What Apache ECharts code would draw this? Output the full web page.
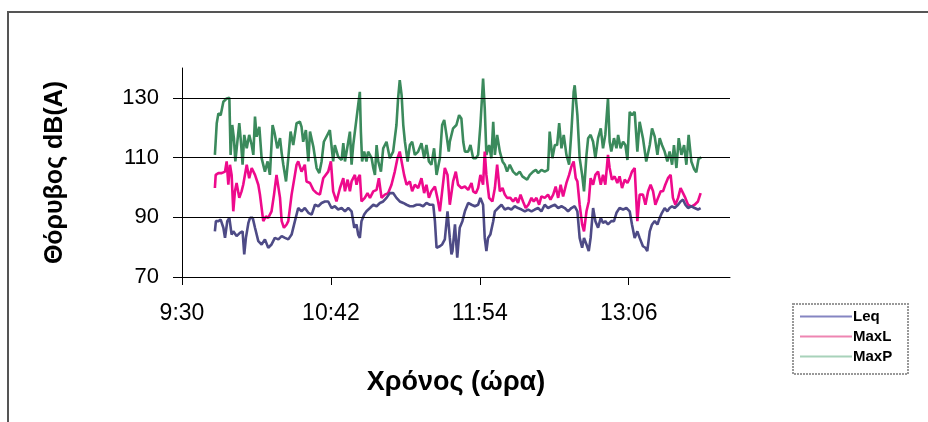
<!DOCTYPE html>
<html>
<head>
<meta charset="utf-8">
<script src="https://cdn.jsdelivr.net/npm/echarts@6/dist/echarts.min.js"></script>
<style>
  html, body { margin: 0; padding: 0; background: #fff; }
  #chart { width: 928px; height: 422px; }
</style>
</head>
<body>
<div id="chart"></div>
<script>
  // times in minutes since midnight, levels in dB(A)
  const timeTicks = [570, 642, 714, 786]
  const dbTicks = [70, 90, 110, 130]
  const gridDb = [90, 110, 130]

  const leqTime = [585.9, 586.4, 587.6, 588.7, 590.0, 590.8, 591.9, 592.9, 594.0, 594.8, 596.4, 598.0, 599.3, 600.1, 600.9, 602.1, 602.9, 604.2, 605.3, 606.9, 608.5, 610.1, 611.7, 613.3, 614.9, 616.6, 618.2, 619.8, 621.4, 623.0, 624.6, 626.2, 627.8, 629.4, 631.1, 632.7, 634.3, 635.9, 637.5, 639.1,
    640.7, 642.3, 643.9, 645.5, 647.2, 648.8, 650.4, 652.0, 653.3, 654.4, 655.2, 656.0, 656.8, 658.1, 659.2, 660.9, 662.5, 664.1, 665.7, 667.3, 668.9, 670.5, 672.1, 673.7, 675.3, 677.0, 678.6, 680.2, 681.8, 683.4, 685.0, 686.6, 688.2, 689.8, 691.5, 692.3, 693.1, 694.7, 695.8, 697.1, 698.4, 699.5, 700.3,
    700.8, 702.0, 703.1, 704.3, 705.6, 706.8, 708.4, 710.0, 711.6, 713.2, 714.3, 715.6, 716.4, 717.2, 718.0, 719.1, 720.5, 721.3, 722.9, 724.5, 726.1, 727.7, 729.3, 730.9, 732.5, 734.2, 735.8, 737.4, 739.0, 740.6, 742.2, 743.8, 745.4, 747.0, 748.6, 750.3, 751.9, 753.5, 755.1, 756.7, 758.3, 759.9,
    761.2, 762.3, 763.5, 764.4, 765.6, 766.7, 767.6, 768.8, 769.9, 771.2, 772.5, 773.6, 774.7, 776.0, 777.6, 778.9, 780.1, 781.6, 783.3, 784.9, 786.5, 787.6, 788.9, 790.2, 791.3, 792.9, 794.1, 795.0, 796.2, 797.3, 798.6, 799.9, 801.0, 802.1, 803.4, 804.7, 805.8, 807.0, 808.2, 809.9, 811.1, 812.3, 813.4, 814.7, 816.3, 817.9, 819.5, 820.8]
  const leqDb = [85.3, 88.7, 88.7, 89.2, 86.5, 83.1, 88.7, 89.8, 84.2, 85.3, 83.7, 84.8, 85.3, 77.6, 83.1, 88.1, 89.8, 89.8, 86.5, 82.0, 80.9, 82.6, 79.8, 80.9, 83.1, 82.6, 83.7, 83.1, 82.6, 84.2, 88.7, 93.1, 92.0, 93.1, 91.5, 90.9, 94.2, 93.7, 94.8, 95.3,
    95.3, 93.1, 93.7, 92.6, 93.1, 92.0, 93.1, 92.0, 86.5, 87.6, 84.2, 83.1, 88.7, 90.9, 92.0, 93.1, 94.2, 93.7, 94.8, 95.3, 96.5, 98.1, 98.1, 96.5, 95.3, 94.8, 94.2, 93.7, 93.7, 94.2, 94.2, 93.7, 94.8, 94.2, 94.2, 88.7, 79.8, 80.3, 80.9, 82.6, 92.0, 83.1, 77.6,
    78.7, 87.6, 76.5, 86.5, 88.7, 92.0, 94.8, 94.2, 93.7, 94.2, 96.5, 94.2, 83.1, 78.7, 83.1, 84.2, 88.7, 92.0, 93.1, 94.2, 92.6, 93.1, 92.6, 93.7, 93.1, 92.6, 92.0, 92.6, 92.0, 92.6, 93.1, 92.0, 94.2, 93.1, 93.7, 94.2, 93.1, 93.7, 93.1, 92.0, 93.1, 93.7,
    92.0, 83.1, 79.8, 83.1, 80.9, 78.7, 83.1, 93.1, 88.7, 86.5, 89.8, 88.1, 88.7, 87.6, 88.7, 88.7, 91.5, 93.1, 92.6, 93.1, 92.0, 87.6, 83.1, 85.3, 83.1, 80.3, 79.8, 78.7, 85.3, 87.6, 88.7, 87.6, 89.8, 91.5, 93.1, 92.0, 93.1, 93.7, 93.1, 94.2, 95.3, 95.9, 94.2, 93.1, 93.7, 93.1, 92.6, 93.1]

  const maxLTime = [585.9, 586.3, 587.6, 589.2, 590.8, 591.6, 592.4, 593.2, 594.0, 594.8, 595.6, 596.4, 597.7, 598.8, 599.6, 601.3, 602.5, 603.7, 604.5, 605.3, 606.9, 607.7, 608.5, 609.3, 610.6, 611.7, 613.3, 614.5, 615.7, 617.4, 618.2, 619.3, 620.6, 621.4, 623.0, 624.6, 625.4, 626.2, 627.8, 629.4, 630.2, 631.9, 633.5, 635.1, 636.7, 638.3,
    640.7, 642.0, 643.1, 644.7, 646.4, 648.0, 648.8, 650.1, 651.2, 652.0, 653.6, 654.4, 655.2, 656.0, 656.8, 658.4, 659.7, 660.9, 662.5, 664.1, 665.2, 666.5, 668.1, 669.7, 671.3, 672.9, 674.2, 675.3, 676.2, 677.4, 678.6, 680.2, 681.3, 682.6, 684.2, 685.8, 687.1, 688.2, 689.4, 690.6, 692.3, 693.5, 694.7, 695.8, 697.1, 698.4, 699.5,
    701.1, 702.4, 703.5, 705.1, 706.8, 708.4, 710.0, 710.8, 712.1, 713.2, 714.3, 715.6, 716.4, 717.2, 718.5, 720.1, 721.3, 722.4, 723.7, 725.0, 726.1, 727.2, 728.8, 730.1, 731.4, 732.5, 733.7, 734.9, 736.2, 737.5, 739.0, 740.1, 741.4, 742.7, 743.8, 745.4, 747.0, 748.2, 749.5, 750.7, 751.9, 753.1, 754.3, 755.9, 757.2, 758.3, 759.4, 760.4,
    761.2, 762.3, 763.5, 764.4, 765.6, 766.7, 767.6, 768.8, 769.9, 771.2, 772.5, 773.6, 774.7, 776.0, 776.8, 777.9, 779.2, 780.5, 781.6, 782.8, 784.1, 785.4, 786.5, 787.6, 788.9, 790.2, 791.3, 792.9, 794.1, 795.4, 796.6, 797.8, 798.9, 800.2, 801.5, 802.6, 803.7, 805.0, 806.3, 807.4, 808.6, 809.9, 811.1, 812.3, 813.4, 814.7, 816.3, 817.9, 819.5, 820.8]
  const maxLDb = [99.8, 104.2, 104.8, 104.8, 105.3, 108.7, 100.9, 107.6, 104.2, 92.0, 98.7, 101.5, 96.5, 98.7, 100.9, 107.6, 103.1, 106.5, 107.0, 104.2, 100.9, 97.6, 98.1, 88.7, 90.3, 89.8, 92.0, 97.6, 104.2, 96.5, 88.7, 86.5, 87.6, 88.7, 97.6, 104.2, 107.6, 108.7, 105.3, 107.6, 102.0, 101.5, 99.2, 98.1, 97.6, 103.1,
    105.3, 108.7, 98.7, 95.3, 99.8, 103.1, 98.7, 102.6, 98.7, 102.0, 104.2, 100.9, 103.1, 104.2, 95.3, 96.5, 98.1, 96.5, 98.7, 99.2, 103.1, 96.5, 97.6, 98.1, 100.9, 105.3, 109.8, 112.0, 108.7, 104.2, 100.9, 102.0, 98.7, 100.9, 99.8, 103.1, 98.1, 100.9, 96.5, 98.7, 100.3, 96.5, 92.0, 98.7, 106.5, 104.2, 94.2,
    102.0, 105.3, 100.9, 99.8, 100.3, 99.2, 101.5, 98.7, 98.1, 99.8, 104.2, 100.9, 112.0, 104.2, 96.5, 95.3, 99.8, 107.6, 98.7, 99.8, 97.6, 96.5, 96.5, 95.3, 96.5, 94.8, 97.6, 95.3, 93.1, 94.2, 96.5, 95.3, 96.5, 94.2, 97.0, 96.5, 97.6, 95.9, 97.6, 100.3, 96.5, 100.9, 97.0, 101.5, 104.2, 107.0, 108.7, 103.1,
    102.0, 94.2, 87.6, 85.3, 92.0, 95.3, 103.1, 100.9, 104.2, 105.3, 100.9, 104.2, 100.9, 110.9, 106.5, 102.6, 103.7, 101.5, 103.7, 99.8, 102.6, 101.5, 103.1, 105.3, 106.5, 88.7, 97.6, 97.6, 94.2, 98.7, 100.9, 98.7, 94.2, 96.5, 98.7, 98.7, 100.9, 103.1, 104.2, 96.5, 94.2, 96.5, 99.8, 98.1, 96.5, 94.2, 93.6, 94.2, 95.3, 98.1]

  const maxPTime = [585.9, 586.8, 587.6, 588.7, 590.0, 591.6, 592.9, 593.5, 594.3, 595.1, 595.8, 596.6, 597.7, 598.5, 599.3, 600.1, 601.3, 602.5, 603.7, 604.5, 605.3, 606.1, 607.4, 608.5, 610.1, 611.4, 612.5, 613.8, 614.8, 616.1, 617.4, 618.2, 619.0, 620.3, 621.4, 622.5, 623.8, 625.4, 627.0, 627.8, 628.6, 629.9, 631.1, 631.9, 633.5, 635.1, 636.4, 637.5, 638.6,
    641.5, 643.1, 643.9, 645.5, 647.2, 648.0, 648.8, 650.4, 651.2, 652.0, 652.8, 654.4, 655.2, 656.0, 656.5, 657.1, 658.1, 659.2, 660.0, 661.7, 662.5, 663.3, 664.1, 664.9, 666.2, 667.3, 668.9, 670.5, 672.1, 673.7, 674.5, 675.3, 676.2, 677.0, 677.8, 679.1, 680.2, 681.3, 682.6, 684.2, 685.8, 687.1, 688.2, 689.4, 690.6, 691.9, 693.1, 694.7, 695.8, 696.8, 697.9, 699.0,
    699.5, 701.1, 702.7, 704.0, 705.1, 706.0, 706.8, 708.4, 709.5, 710.8, 712.1, 713.2, 714.3, 715.6, 716.4, 717.2, 718.5, 719.6, 720.5, 721.3, 722.4, 723.7, 725.0, 726.1, 727.2, 728.5, 730.1, 731.7, 733.3, 734.6, 735.8, 736.9, 738.2, 739.8, 741.1, 742.2, 743.8, 745.4, 747.0, 747.8, 749.1, 750.3, 751.4, 752.4, 753.5, 754.6, 755.9, 757.2, 758.3, 759.4,
    759.9, 761.2, 762.3, 763.5, 764.4, 765.6, 766.4, 767.6, 768.8, 769.9, 771.2, 772.5, 773.6, 774.7, 776.0, 776.8, 777.6, 778.9, 780.1, 780.9, 782.1, 783.3, 784.4, 785.4, 786.5, 787.6, 788.9, 790.2, 791.3, 792.9, 794.5, 796.2, 797.3, 798.6, 799.9, 801.0, 802.1, 803.4, 804.7, 805.8, 807.0, 807.9, 809.1, 810.2, 811.5, 812.8, 813.9, 815.0, 816.3, 817.6, 818.7, 819.8, 821.1]
  const maxPDb = [110.9, 121.5, 124.8, 124.2, 128.7, 129.8, 130.0, 110.9, 120.9, 116.5, 108.7, 114.2, 121.5, 115.3, 107.6, 117.6, 113.1, 117.6, 114.2, 110.9, 123.7, 117.0, 120.3, 109.8, 105.3, 108.7, 104.2, 120.9, 118.1, 113.1, 116.5, 111.5, 107.6, 102.0, 109.8, 118.7, 114.2, 121.5, 122.0, 120.3, 115.3, 119.2, 108.7, 118.7, 113.7, 106.5, 104.8, 108.7, 115.3,
    119.2, 108.7, 114.2, 110.3, 109.2, 114.8, 108.7, 115.3, 118.7, 107.6, 114.2, 123.1, 127.6, 132.0, 118.7, 108.7, 112.0, 108.7, 112.0, 109.8, 106.5, 104.2, 114.2, 108.7, 105.3, 113.1, 115.3, 109.8, 112.0, 120.9, 129.8, 135.9, 130.9, 120.9, 115.3, 108.7, 114.2, 115.3, 110.9, 112.0, 114.8, 109.8, 114.2, 108.7, 107.6, 113.1, 104.2, 109.8, 120.9, 122.6, 117.6, 112.0,
    115.3, 119.8, 120.9, 124.2, 123.1, 115.3, 112.0, 112.0, 114.2, 109.8, 109.8, 110.9, 120.9, 136.5, 126.5, 110.9, 114.2, 109.8, 122.0, 110.9, 117.6, 112.0, 108.7, 107.6, 105.3, 107.6, 105.3, 104.2, 105.3, 103.7, 103.1, 102.6, 104.2, 105.3, 105.9, 104.8, 105.9, 105.3, 105.9, 118.7, 109.8, 114.2, 114.2, 121.5, 113.1, 117.6, 110.9, 107.6, 118.7, 132.0,
    134.2, 124.2, 109.8, 104.2, 98.7, 110.9, 116.5, 117.6, 115.3, 109.8, 116.5, 119.8, 113.1, 117.6, 129.8, 115.3, 112.0, 116.5, 113.1, 117.6, 113.1, 115.3, 114.2, 109.2, 125.3, 124.2, 125.3, 112.0, 122.0, 116.5, 108.7, 114.2, 119.8, 117.0, 110.9, 116.5, 114.2, 112.0, 108.7, 112.0, 107.6, 114.2, 106.5, 116.5, 110.9, 114.2, 107.6, 117.6, 108.7, 106.2, 105.1, 109.6, 110.1]

  const font = "'Liberation Sans', Arial, sans-serif"
  const pair = (xs, ys) => xs.map((t, i) => [t, ys[i]])
  const hhmm = v => Math.floor(v / 60) + ':' + String(Math.round(v % 60)).padStart(2, '0')

  const chart = echarts.init(document.getElementById('chart'), null, { renderer: 'canvas' })

  function lineSeries (name, color, data) {
    return {
      name,
      type: 'line',
      data,
      symbol: 'none',
      lineStyle: { color, width: 2.6 },
      itemStyle: { color }
    }
  }

  chart.setOption({
    backgroundColor: '#fff',
    animation: false,
    textStyle: { fontFamily: font },
    graphic: [
      {
        type: 'rect',
        shape: { x: 8, y: 12, width: 1000, height: 600 },
        style: { fill: 'none', stroke: '#555', lineWidth: 2 }
      },
      {
        type: 'rect',
        shape: { x: 793, y: 304, width: 115, height: 70 },
        style: { fill: '#fff', stroke: '#999', lineWidth: 2, lineDash: [2, 1] }
      }
    ],
    grid: { left: 182, right: 198, top: 68, bottom: 145 },
    legend: {
      orient: 'vertical',
      left: 800,
      top: 309,
      padding: 0,
      itemGap: 5,
      itemWidth: 52,
      itemHeight: 2,
      icon: 'rect',
      selectedMode: false,
      data: [
        { name: 'Leq', itemStyle: { color: '#8585c2' } },
        { name: 'MaxL', itemStyle: { color: '#ee85b2' } },
        { name: 'MaxP', itemStyle: { color: '#a8d2ba' } }
      ],
      textStyle: { fontSize: 15, fontWeight: 'bold', color: '#000', lineHeight: 15, padding: [0, 0, 0, -4] }
    },
    xAxis: {
      type: 'value',
      min: 570,
      max: 835,
      name: 'Χρόνος (ώρα)',
      nameLocation: 'middle',
      nameGap: 92,
      nameTextStyle: { fontSize: 27, fontWeight: 'bold', color: '#000' },
      axisLine: { show: true, lineStyle: { color: '#000', width: 1 } },
      axisTick: { show: true, length: 8, customValues: timeTicks, lineStyle: { color: '#000' } },
      axisLabel: { customValues: timeTicks, formatter: hhmm, fontSize: 23, color: '#000', margin: 25 },
      splitLine: { show: false }
    },
    yAxis: {
      type: 'value',
      min: 70,
      max: 140,
      name: 'Θόρυβος dB(A)',
      nameLocation: 'middle',
      nameRotate: 90,
      nameGap: 114,
      nameTextStyle: { fontSize: 25, fontWeight: 'bold', color: '#000' },
      axisLine: { show: true, lineStyle: { color: '#000', width: 1 } },
      axisTick: { show: true, length: 9, customValues: dbTicks, lineStyle: { color: '#000' } },
      axisLabel: { customValues: dbTicks, fontSize: 22, color: '#000', margin: 23 },
      splitLine: { show: false }
    },
    series: [
      {
        ...lineSeries('MaxP', '#3b8a5c', pair(maxPTime, maxPDb)),
        markLine: {
          silent: true,
          symbol: 'none',
          label: { show: false },
          lineStyle: { color: '#000', width: 1.2, type: 'solid' },
          data: gridDb.map(v => ({ yAxis: v }))
        }
      },
      lineSeries('MaxL', '#ee0a8c', pair(maxLTime, maxLDb)),
      lineSeries('Leq', '#4e4b86', pair(leqTime, leqDb))
    ]
  })
</script>
</body>
</html>
